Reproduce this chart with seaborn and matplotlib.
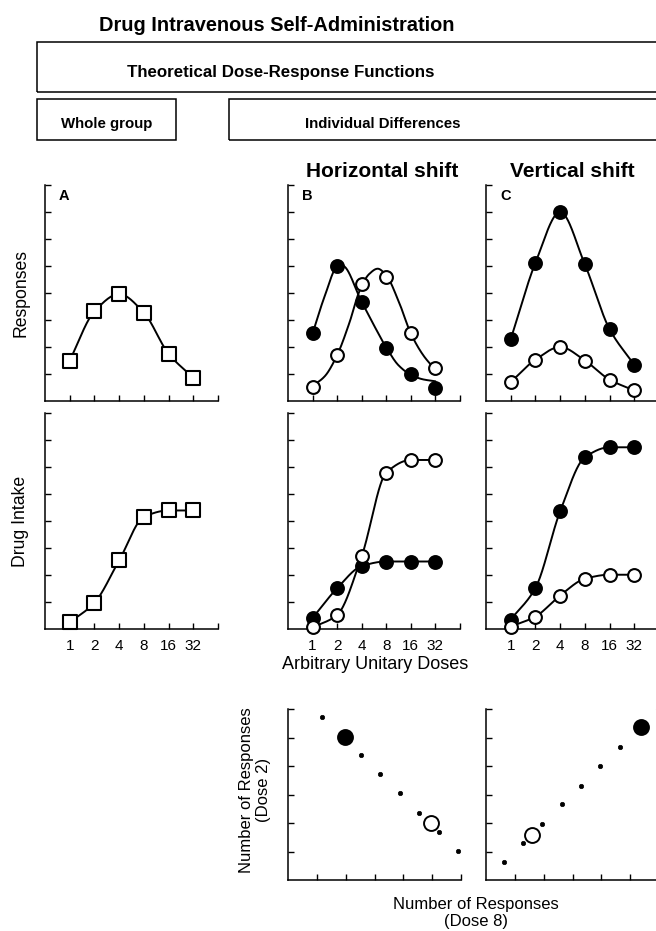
import numpy as np
import matplotlib
matplotlib.use('Agg')
import matplotlib.pyplot as plt
from matplotlib import font_manager
from matplotlib.patches import Rectangle
import seaborn as sns

# =========================
# data
# =========================
doses = [1, 2, 4, 8, 16, 32]
dose_pos = [1, 2, 3, 4, 5, 6]

A_resp = [1.50, 3.32, 3.96, 3.27, 1.75, 0.86]
A_intake = [0.25, 0.97, 2.54, 4.15, 4.39, 4.39]

B_resp_filled = [2.51, 5.00, 3.68, 1.98, 1.00, 0.50]
B_resp_open = [0.53, 1.71, 4.32, 4.60, 2.51, 1.24]
C_resp_filled = [2.29, 5.12, 7.00, 5.06, 2.66, 1.34]
C_resp_open = [0.70, 1.53, 2.00, 1.50, 0.79, 0.39]

B_intake_filled = [0.41, 1.51, 2.33, 2.50, 2.50, 2.50]
B_intake_open = [0.06, 0.52, 2.70, 5.79, 6.26, 6.26]
C_intake_filled = [0.35, 1.52, 4.36, 6.36, 6.73, 6.73]
C_intake_open = [0.09, 0.46, 1.24, 1.86, 2.01, 2.01]

# fitted curves of panel B that don't pass through every point
B_curve_filled_x = [1, 1.5, 2, 2.2, 3, 3.5, 4, 4.5, 5, 5.5, 6]
B_curve_filled_y = [2.5, 3.9, 4.97, 5.02, 3.67, 2.8, 1.98, 1.32, 0.97, 0.8, 0.73]
B_curve_open_x = [1, 1.5, 2, 2.5, 2.9, 3.3, 3.65, 4, 4.5, 5, 5.5, 6]
B_curve_open_y = [0.55, 0.92, 1.7, 2.9, 4.05, 4.7, 4.9, 4.65, 3.7, 2.5, 1.7, 1.15]

# bottom scatter: responses dose 8 (x) vs dose 2 (y)
B_dots_x = [1.19, 2.53, 3.20, 3.87, 4.55, 5.22, 5.88]
B_dots_y = [5.73, 4.39, 3.72, 3.04, 2.36, 1.68, 1.02]
B_big_filled = [1.97, 5.01]
B_big_open = [4.97, 1.99]
C_dots_x = [0.61, 1.28, 1.95, 2.62, 3.29, 3.97, 4.64, 5.98]
C_dots_y = [0.62, 1.31, 1.98, 2.65, 3.31, 3.99, 4.65, 6.00]
C_big_filled = [5.39, 5.36]
C_big_open = [1.60, 1.58]

# =========================
# style
# =========================
sns.set_theme(style='white')
plt.rcParams['font.family'] = ['Liberation Sans', 'DejaVu Sans']
plt.rcParams['text.color'] = 'black'
plt.rcParams['axes.labelcolor'] = 'black'

names = {f.name for f in font_manager.fontManager.ttflist}
if 'Liberation Sans Narrow' in names:
    narrow, k = ['Liberation Sans Narrow', 'Liberation Sans'], 1.0
else:
    narrow, k = ['Liberation Sans', 'DejaVu Sans'], 0.85

W, H = 656, 931
fig = plt.figure(figsize=(W / 100, H / 100), dpi=100)
fig.patch.set_facecolor('white')


def fx(x):
    return x / W


def fy(y):
    return 1 - y / H


def make_ax(left, top, right, bottom):
    return fig.add_axes([fx(left), fy(bottom), (right - left) / W, (bottom - top) / H])


def smooth(xk, yk, n=300):
    # monotone cubic (pchip) through the read-off knots, just for drawing
    xk = np.asarray(xk, float)
    yk = np.asarray(yk, float)
    h = np.diff(xk)
    d = np.diff(yk) / h
    m = np.zeros_like(xk)
    m[0], m[-1] = d[0], d[-1]
    for i in range(1, len(xk) - 1):
        if d[i - 1] * d[i] > 0:
            w1 = 2 * h[i] + h[i - 1]
            w2 = h[i] + 2 * h[i - 1]
            m[i] = (w1 + w2) / (w1 / d[i - 1] + w2 / d[i])
    xs = np.linspace(xk[0], xk[-1], n)
    i = np.clip(np.searchsorted(xk, xs, side='right') - 1, 0, len(xk) - 2)
    t = (xs - xk[i]) / h[i]
    ys = ((2 * t**3 - 3 * t**2 + 1) * yk[i] + (t**3 - 2 * t**2 + t) * h[i] * m[i]
          + (-2 * t**3 + 3 * t**2) * yk[i + 1] + (t**3 - t**2) * h[i] * m[i + 1])
    return xs, ys


def style_ax(ax, xmax, ymax):
    ax.set_xlim(0, xmax)
    ax.set_ylim(0, ymax)
    ax.set_facecolor('none')
    sns.despine(ax=ax)
    for sp in ['left', 'bottom']:
        ax.spines[sp].set_linewidth(1.1)
        ax.spines[sp].set_color('black')
    ax.set_xticks(range(1, xmax + 1))
    ax.set_yticks(range(1, ymax + 1))
    ax.set_yticklabels([])
    ax.tick_params(direction='in', length=4, width=1.0, colors='black',
                   labelsize=11, pad=7, left=True, bottom=True)
    ax.grid(False)


def dose_ax(ax, labels):
    style_ax(ax, 7, 8)
    if labels:
        ax.set_xticklabels([str(d) for d in doses] + [''])
    else:
        ax.set_xticklabels([])


def curve(ax, xk, yk):
    xs, ys = smooth(xk, yk)
    sns.lineplot(x=xs, y=ys, ax=ax, color='black', linewidth=1.4, zorder=2, legend=False)


def points(ax, vals, filled, marker='o', s=85):
    sns.scatterplot(x=dose_pos, y=vals, ax=ax, marker=marker, s=s,
                    color='black' if filled else 'white', edgecolor='black',
                    linewidth=1.5, zorder=3, clip_on=False, legend=False)


# =========================
# header + boxes
# =========================
fig.text(fx(277), fy(31), 'Drug Intravenous Self-Administration', ha='center',
         va='baseline', fontsize=17 * k, fontweight='bold', family=narrow)
for (x0, y0, x1, y1) in [(37, 42, 720, 92), (37, 99, 176, 140), (229, 99, 720, 140)]:
    fig.add_artist(Rectangle((fx(x0), fy(y1)), (x1 - x0) / W, (y1 - y0) / H,
                             transform=fig.transFigure, fill=False,
                             edgecolor='black', linewidth=1.1))
fig.text(fx(281), fy(77), 'Theoretical Dose-Response Functions', ha='center',
         va='baseline', fontsize=14.3 * k, fontweight='bold', family=narrow)
fig.text(fx(107), fy(128), 'Whole group', ha='center', va='baseline',
         fontsize=12.7 * k, fontweight='bold', family=narrow)
fig.text(fx(383), fy(128), 'Individual Differences', ha='center', va='baseline',
         fontsize=12.7 * k, fontweight='bold', family=narrow)

fig.text(fx(382), fy(177), 'Horizontal shift', ha='center', va='baseline',
         fontsize=15, fontweight='bold')
fig.text(fx(572), fy(177), 'Vertical shift', ha='center', va='baseline',
         fontsize=15, fontweight='bold')

# =========================
# dose-response panels
# =========================
cols = {'A': (45, 218), 'B': (288, 460), 'C': (486, 659)}
row1 = (185, 401)
row2 = (413, 629)

axA1 = make_ax(cols['A'][0], row1[0], cols['A'][1], row1[1])
axB1 = make_ax(cols['B'][0], row1[0], cols['B'][1], row1[1])
axC1 = make_ax(cols['C'][0], row1[0], cols['C'][1], row1[1])
axA2 = make_ax(cols['A'][0], row2[0], cols['A'][1], row2[1])
axB2 = make_ax(cols['B'][0], row2[0], cols['B'][1], row2[1])
axC2 = make_ax(cols['C'][0], row2[0], cols['C'][1], row2[1])

for ax in [axA1, axB1, axC1]:
    dose_ax(ax, False)
for ax in [axA2, axB2, axC2]:
    dose_ax(ax, True)

# A
curve(axA1, dose_pos, A_resp)
points(axA1, A_resp, False, marker='s', s=88)
curve(axA2, dose_pos, A_intake)
points(axA2, A_intake, False, marker='s', s=88)

# B
curve(axB1, B_curve_filled_x, B_curve_filled_y)
curve(axB1, B_curve_open_x, B_curve_open_y)
points(axB1, B_resp_filled, True)
points(axB1, B_resp_open, False)
curve(axB2, dose_pos, B_intake_filled)
curve(axB2, dose_pos, B_intake_open)
points(axB2, B_intake_filled, True)
points(axB2, B_intake_open, False)

# C
curve(axC1, dose_pos, C_resp_filled)
curve(axC1, dose_pos, C_resp_open)
points(axC1, C_resp_filled, True)
points(axC1, C_resp_open, False)
curve(axC2, dose_pos, C_intake_filled)
curve(axC2, dose_pos, C_intake_open)
points(axC2, C_intake_filled, True)
points(axC2, C_intake_open, False)

for letter, ax in [('A', axA1), ('B', axB1), ('C', axC1)]:
    fig.text(fx(cols[letter][0] + 14), fy(200), letter, ha='left', va='baseline',
             fontsize=10.5, fontweight='bold')

fig.text(fx(21), fy(293), 'Responses', rotation=90, ha='center', va='center', fontsize=12.7)
fig.text(fx(21), fy(521), 'Drug Intake', rotation=90, ha='center', va='center', fontsize=12.7)
fig.text(fx(375), fy(669), 'Arbitrary Unitary Doses', ha='center', va='baseline', fontsize=13)

# =========================
# bottom scatter panels
# =========================
axB3 = make_ax(288, 709, 461, 880)
axC3 = make_ax(486, 709, 659, 880)
for ax in [axB3, axC3]:
    style_ax(ax, 6, 6)
    ax.set_xticklabels([])

for ax, dx, dy, bf, bo in [(axB3, B_dots_x, B_dots_y, B_big_filled, B_big_open),
                           (axC3, C_dots_x, C_dots_y, C_big_filled, C_big_open)]:
    sns.scatterplot(x=dx, y=dy, ax=ax, marker='o', s=10, color='black',
                    edgecolor='black', linewidth=0.5, zorder=2, clip_on=False, legend=False)
    sns.scatterplot(x=[bf[0]], y=[bf[1]], ax=ax, marker='o', s=115, color='black',
                    edgecolor='black', linewidth=1.4, zorder=3, clip_on=False, legend=False)
    sns.scatterplot(x=[bo[0]], y=[bo[1]], ax=ax, marker='o', s=115, color='white',
                    edgecolor='black', linewidth=1.4, zorder=3, clip_on=False, legend=False)

fig.text(fx(255), fy(790), 'Number of Responses\n(Dose 2)', rotation=90, ha='center',
         va='center', fontsize=12, linespacing=1.1)
fig.text(fx(476), fy(913), 'Number of Responses\n(Dose 8)', ha='center', va='center',
         fontsize=12, linespacing=1.1)

fig.savefig('out.png', dpi=100, facecolor='white')
